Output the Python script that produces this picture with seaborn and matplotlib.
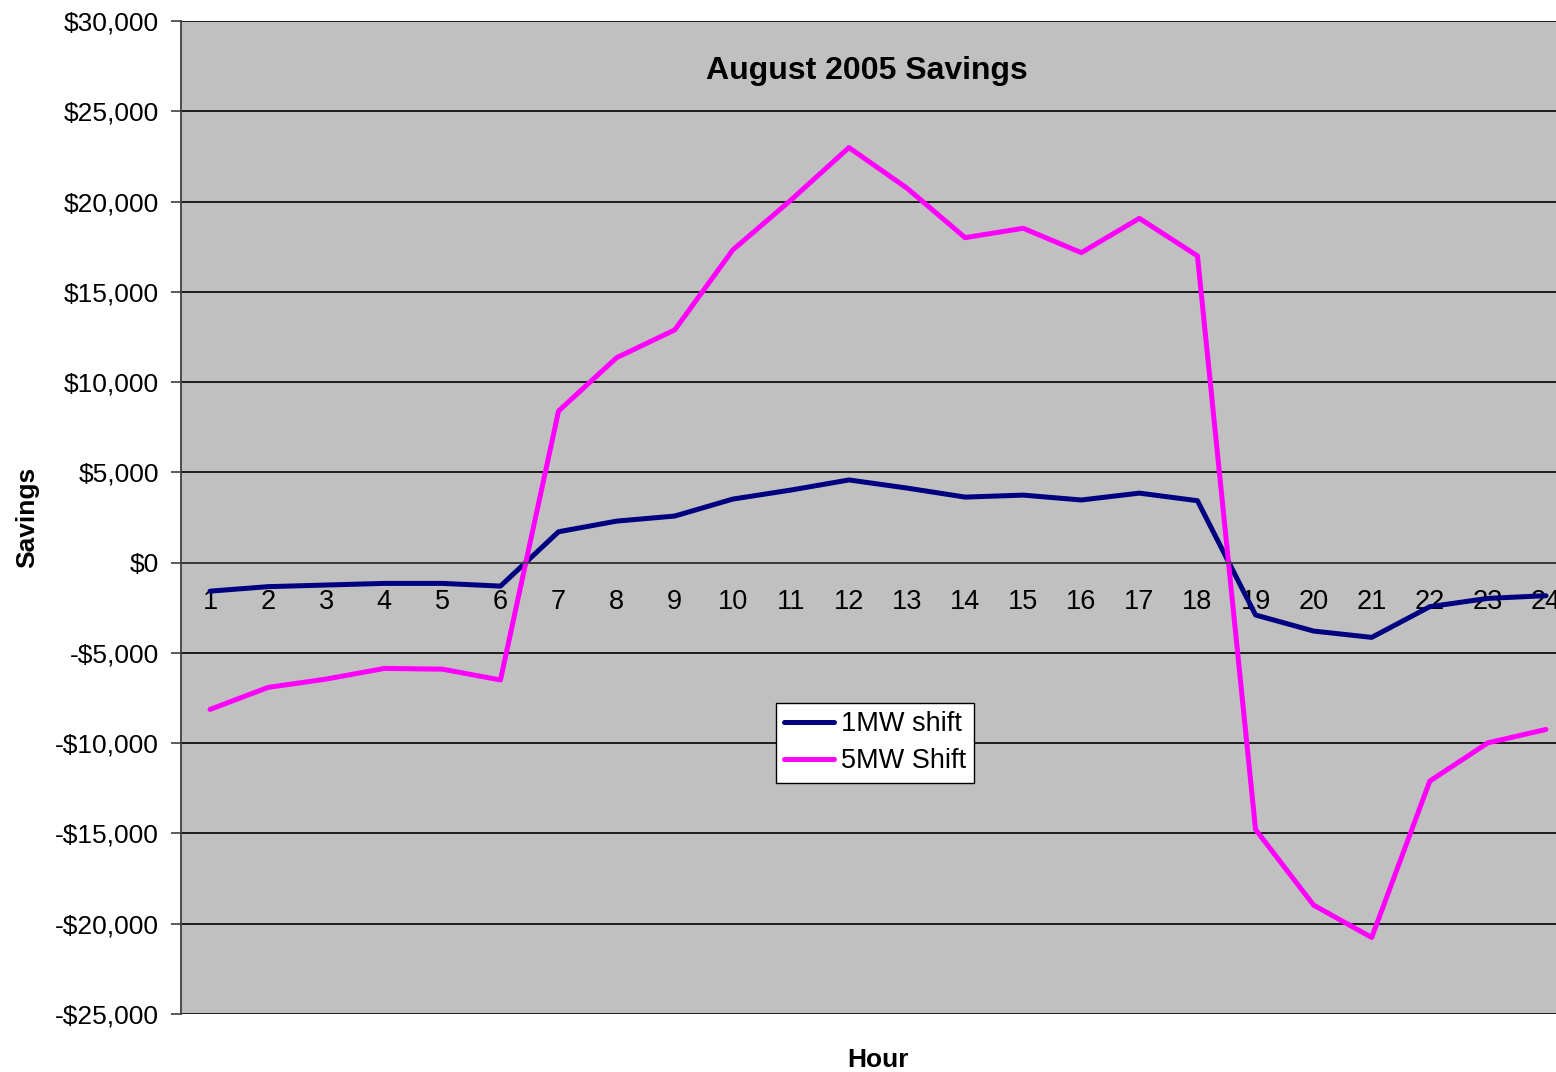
import matplotlib
matplotlib.use("Agg")
import matplotlib.pyplot as plt
import matplotlib.ticker as mticker
import seaborn as sns
import pandas as pd

hours = list(range(1, 25))
mw1_shift = [-1580, -1330, -1240, -1150, -1150, -1300, 1710, 2300, 2580, 3520, 4020, 4580,
             4130, 3630, 3740, 3470, 3850, 3430, -2900, -3790, -4140, -2440, -1980, -1830]
mw5_shift = [-8130, -6910, -6450, -5860, -5900, -6500, 8400, 11350, 12890, 17320, 20080, 22990,
             20740, 18000, 18520, 17170, 19070, 16990, -14780, -18970, -20760, -12100, -9980, -9240]
series_names = ["1MW shift", "5MW Shift"]
colors = ["#000080", "#FF00FF"]

df = pd.DataFrame({
    "Hour": hours * 2,
    "Savings": mw1_shift + mw5_shift,
    "Series": [series_names[0]] * 24 + [series_names[1]] * 24,
})

sns.set_style("white")
plt.rcParams["font.family"] = ["Liberation Sans", "DejaVu Sans"]
plt.rcParams["text.color"] = "black"
plt.rcParams["xtick.color"] = "black"
plt.rcParams["ytick.color"] = "black"

W, H = 1556, 1072
fig = plt.figure(figsize=(W / 100, H / 100), dpi=100)
left, right, top, bottom = 181, 1575, 21, 1014
ax = fig.add_axes([left / W, 1 - bottom / H, (right - left) / W, (bottom - top) / H])
ax.set_facecolor("#C0C0C0")

sns.lineplot(data=df, x="Hour", y="Savings", hue="Series", palette=colors,
             linewidth=3.6, ax=ax, legend=True)

ax.set_xlim(0.5, 24.5)
ax.set_ylim(-25000, 30000)
ax.yaxis.set_major_locator(mticker.MultipleLocator(5000))

def money(v, pos):
    v = int(round(v))
    if v < 0:
        return "-${:,}".format(-v)
    return "${:,}".format(v)

ax.yaxis.set_major_formatter(mticker.FuncFormatter(money))
ax.yaxis.grid(True, color="black", linewidth=1.2)
ax.set_axisbelow(True)

for s in ["top", "right"]:
    ax.spines[s].set_visible(False)
ax.spines["left"].set_color("#404040")
ax.spines["left"].set_linewidth(1.3)
ax.spines["bottom"].set_position(("data", 0))
ax.spines["bottom"].set_color("#404040")
ax.spines["bottom"].set_linewidth(1.3)

ax.xaxis.set_major_locator(mticker.FixedLocator([h + 0.5 for h in [0] + hours]))
ax.xaxis.set_major_formatter(mticker.NullFormatter())
ax.xaxis.set_minor_locator(mticker.FixedLocator(hours))
ax.xaxis.set_minor_formatter(mticker.FixedFormatter([str(h) for h in hours]))
ax.tick_params(axis="x", which="major", direction="out", length=8, width=1.2, color="#404040")
ax.tick_params(axis="x", which="minor", length=0, pad=19, labelsize=19.5, labelcolor="black")
ax.tick_params(axis="y", which="major", direction="out", length=7, width=1.2, color="#404040",
               labelsize=19, pad=9, left=True, labelcolor="black")
ax.set_xlabel("")
ax.set_ylabel("")

fig.text(867 / W, 1 - 71 / H, "August 2005 Savings", ha="center", va="center",
         fontsize=23, fontweight="bold", color="black")
fig.text(27 / W, 1 - 517 / H, "Savings", ha="center", va="center", rotation=90,
         fontsize=19, fontweight="bold", color="black")
fig.text(878 / W, 1 - 1060 / H, "Hour", ha="center", va="center",
         fontsize=19, fontweight="bold", color="black")

leg = ax.legend(loc="upper left", bbox_to_anchor=(776 / W, 1 - 703 / H),
                bbox_transform=fig.transFigure, fontsize=19.5, frameon=True,
                fancybox=False, edgecolor="black", facecolor="white", framealpha=1,
                handlelength=1.85, handletextpad=0.25, borderpad=0.3, labelspacing=0.42,
                borderaxespad=0)
leg.get_frame().set_linewidth(1.0)
for t in leg.get_texts():
    t.set_color("black")

fig.savefig("out.png", dpi=100)
